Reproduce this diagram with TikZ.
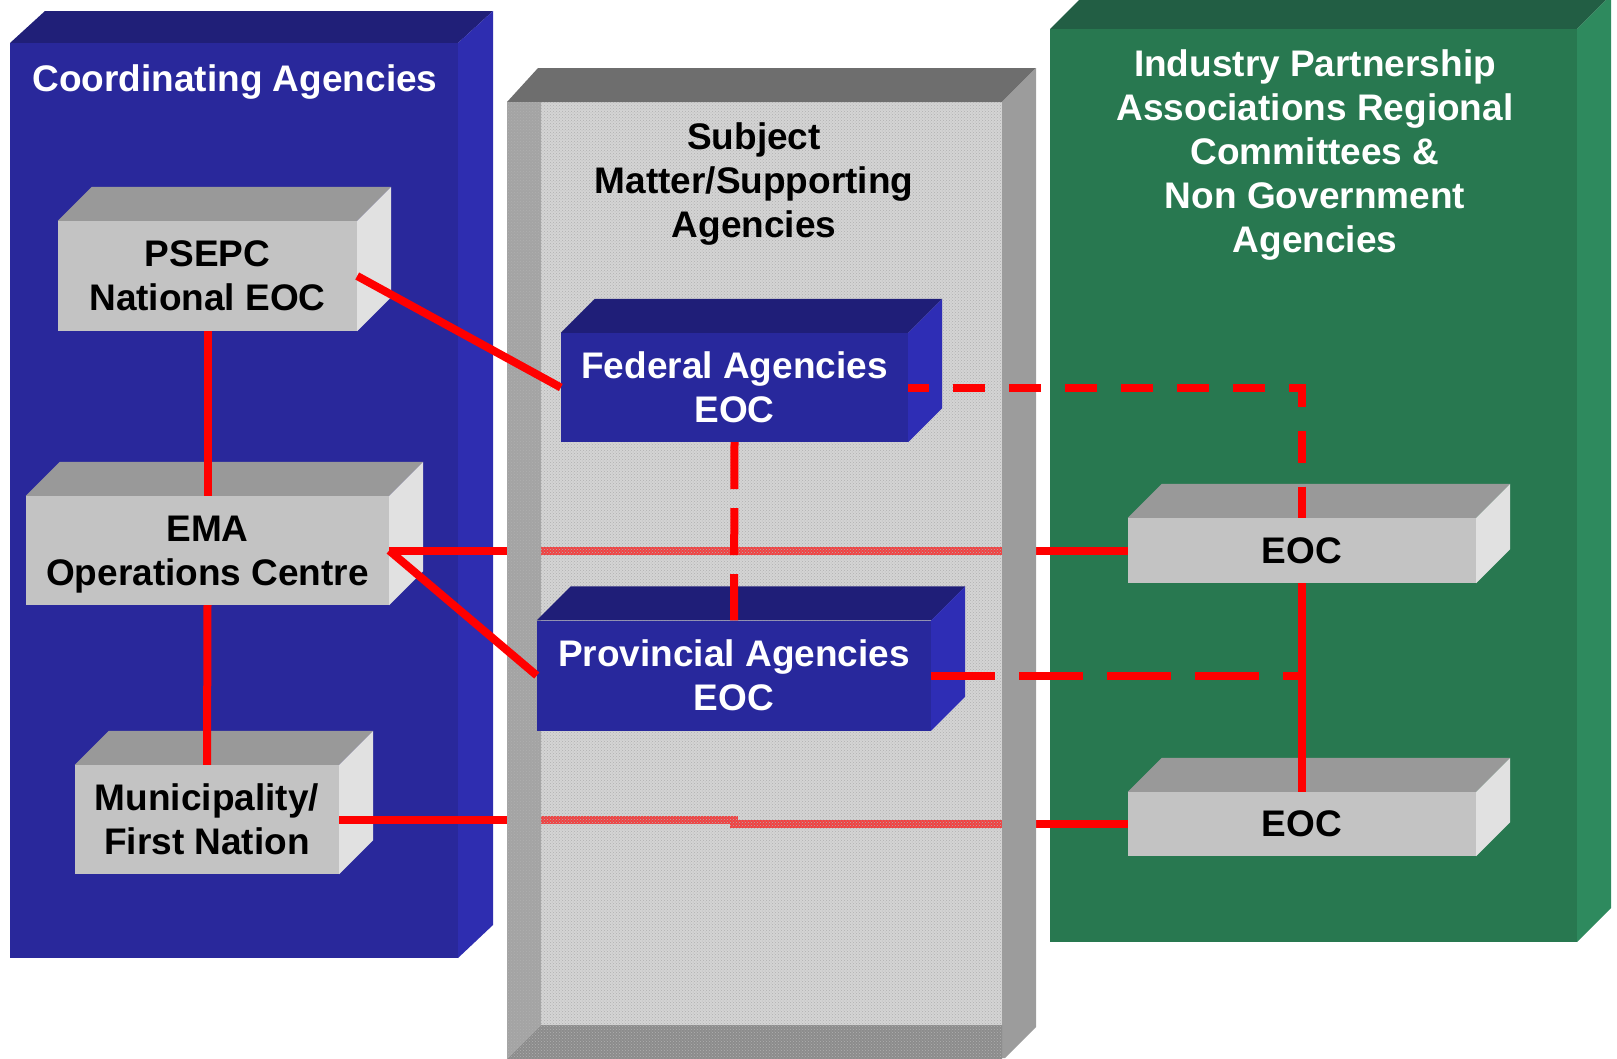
\documentclass[tikz,border=0pt]{standalone}
\usepackage{fontspec}
\setmainfont{Liberation Sans}
\usetikzlibrary{calc,patterns}

\definecolor{coordfront}{HTML}{29289B}
\definecolor{coordtop}{HTML}{201F78}
\definecolor{coordside}{HTML}{2E2DB0}
\definecolor{indfront}{HTML}{287850}
\definecolor{indtop}{HTML}{225E44}
\definecolor{indside}{HTML}{2E8A5E}
\definecolor{smtop}{HTML}{6E6E6E}
\definecolor{smside}{HTML}{9C9C9C}
\definecolor{smwall}{HTML}{A4A4A4}
\definecolor{smfront}{HTML}{D4D4D4}
\definecolor{smfloor}{HTML}{8C8C8C}
\definecolor{smgrain}{HTML}{B0B0B0}
\definecolor{eocfront}{HTML}{C3C3C3}
\definecolor{eoctop}{HTML}{999999}
\definecolor{eocside}{HTML}{E1E1E1}
\definecolor{agfront}{HTML}{28289C}
\definecolor{agtop}{HTML}{1F1E78}
\definecolor{agside}{HTML}{2E2DB5}
\definecolor{linkred}{HTML}{FF0000}

% top and right faces of a box node
\newcommand{\boxfaces}[3]{%
  \fill[#2] (#1.north west) -- ++(34,-34) -- ($(#1.north east)+(34,-34)$) -- (#1.north east) -- cycle;
  \fill[#3] (#1.north east) -- ++(34,-34) -- ($(#1.south east)+(34,-34)$) -- (#1.south east) -- cycle;
}

\tikzset{
  boxtext/.style={font=\fontsize{37}{44}\selectfont\bfseries, align=center, inner sep=0pt, text depth=0pt},
  eocbox/.style={boxtext, fill=eocfront, text=black},
  agencybox/.style={boxtext, fill=agfront, text=white},
  grain/.style={postaction={fill opacity=1, pattern=crosshatch dots, pattern color=smgrain}},
  link/.style={draw=linkred, line width=8pt},
  shortdash/.style={link, dash pattern=on 32pt off 24pt},
  longdash/.style={link, dash pattern=on 64pt off 24pt},
  stackdash/.style={link, dash pattern=on 47pt off 19pt}
}

\begin{document}
\begin{tikzpicture}[x=1pt,y=-1pt]
  \useasboundingbox (0,0) rectangle (1617,1058);
  \clip (0,0) rectangle (1617,1058);
  % coordinating agencies
  \fill[coordtop] (10,43) -- (45,11) -- (493,11) -- (458,43) -- cycle;
  \fill[coordside] (458,43) -- (493,11) -- (493,925) -- (458,958) -- cycle;
  \fill[coordfront] (10,43) rectangle (458,958);
  \node[boxtext, text=white] (coordtitle) at (235,78) {Coordinating Agencies};
  % industry and non government
  \fill[indtop] (1050,29) -- (1084,-5) -- (1611,-5) -- (1577,29) -- cycle;
  \fill[indside] (1577,29) -- (1611,-5) -- (1611,908) -- (1577,942) -- cycle;
  \fill[indfront] (1050,29) rectangle (1577,942);
  \node[boxtext, text=white] (indtitle) at (1315,151)
    {Industry Partnership\\Associations Regional\\Committees \&\\Non Government\\Agencies};

  \node[eocbox, minimum width=299pt, minimum height=110pt] (psepc) at (207.5,276) {PSEPC\\National EOC};
  \boxfaces{psepc}{eoctop}{eocside}
  \node[eocbox, minimum width=363pt, minimum height=109pt] (ema) at (207.5,550.5) {EMA\\Operations Centre};
  \boxfaces{ema}{eoctop}{eocside}
  \node[eocbox, minimum width=264pt, minimum height=109pt] (muni) at (207,819.5) {Municipality/\\First Nation};
  \boxfaces{muni}{eoctop}{eocside}
  \node[eocbox, minimum width=348pt, minimum height=65pt] (eocA) at (1302,550.5) {EOC};
  \boxfaces{eocA}{eoctop}{eocside}
  \node[eocbox, minimum width=348pt, minimum height=64pt] (eocB) at (1302,824) {EOC};
  \boxfaces{eocB}{eoctop}{eocside}

  % subject matter / supporting
  \fill[smfront] (541,102) rectangle (1002,1025);
  \draw[link] (ema.east) -- (eocA.west);
  \draw[link] (muni.east) -- (muni.east -| 734,0) |- (eocB.west);
  \fill[smtop] (507,102) -- (538,68) -- (1036,68) -- (1002,102) -- cycle;
  \fill[smside] (1002,102) -- (1036,68) -- (1036,1027) -- (1005,1058) -- (1002,1058) -- cycle;
  \fill[smwall, grain] (507,102) -- (541,102) -- (541,1025) -- (507,1059) -- cycle;
  \fill[smfloor, grain] (541,1025) -- (1002,1025) -- (1002,1059) -- (507,1059) -- cycle;
  \fill[smfront, fill opacity=0.3, grain] (541,102) rectangle (1002,1025);
  \node[boxtext, text=black] (smtitle) at (754,180) {Subject\\Matter/Supporting\\Agencies};

  \node[agencybox, minimum width=347pt, minimum height=109pt] (fed) at (734.5,387.5) {Federal Agencies\\EOC};
  \boxfaces{fed}{agtop}{agside}
  \node[agencybox, minimum width=394pt, minimum height=110pt] (prov) at (734,675.5) {Provincial Agencies\\EOC};
  \boxfaces{prov}{agtop}{agside}

  \draw[link] (psepc.south) -- (ema.north);
  \draw[link] (ema.south) -- (muni.north);
  \draw[link] (psepc.east) -- (fed.west);
  \draw[link] (ema.east) -- (prov.west);
  \draw[link] (eocA.south) -- (eocB.north);
  \draw[stackdash] (fed.south) -- (prov.north);
  \draw[shortdash, dash phase=11pt] (fed.east) -| (eocA.north);
  \draw[longdash] (prov.east) -- (prov.east -| eocA.south);
\end{tikzpicture}
\end{document}
